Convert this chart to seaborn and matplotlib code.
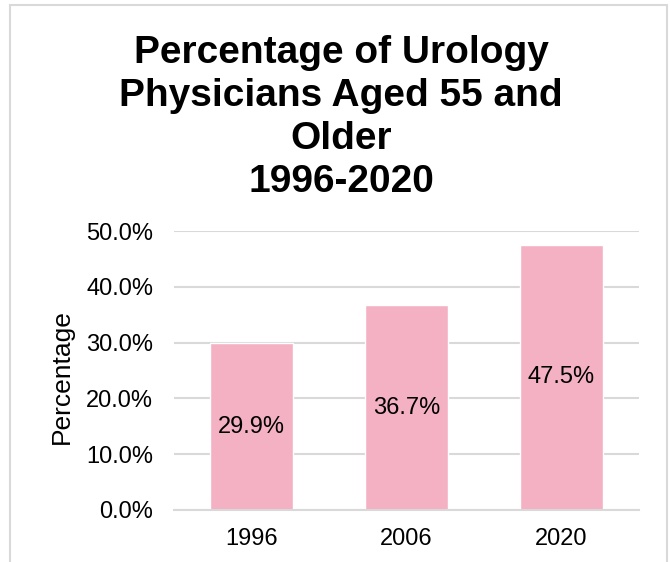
import matplotlib
matplotlib.use("Agg")
import matplotlib.pyplot as plt
import seaborn as sns
from matplotlib.patches import Rectangle
from matplotlib.ticker import PercentFormatter
from pandas import DataFrame

years = ["1996", "2006", "2020"]
share = [0.299, 0.367, 0.475]
y_ticks = [0.0, 0.1, 0.2, 0.3, 0.4, 0.5]

sns.set_theme(style="white")
plt.rcParams["font.family"] = ["Liberation Sans", "DejaVu Sans"]

df = DataFrame({"year": years, "share": share})

fig = plt.figure(figsize=(6.7, 5.62), dpi=100)
ax = fig.add_axes([174 / 670, 1 - 510 / 562, (639 - 174) / 670, (510 - 231) / 562])

sns.barplot(data=df, x="year", y="share", color="#F4B1C3", saturation=1,
            width=0.54, ax=ax)
for c in ax.containers:
    ax.bar_label(c, labels=[f"{v * 100:.1f}%" for v in share],
                 label_type="center", fontsize=17, color="black")

ax.set_ylim(0, 0.5)
ax.set_yticks(y_ticks)
ax.yaxis.set_major_formatter(PercentFormatter(1.0, decimals=1))
ax.grid(axis="y", color="#D9D9D9", linewidth=1.5)
ax.set_axisbelow(True)
for s in ["top", "right", "left"]:
    ax.spines[s].set_visible(False)
ax.spines["bottom"].set_color("#D9D9D9")
ax.spines["bottom"].set_linewidth(1.5)
ax.tick_params(axis="both", length=0, labelsize=17, colors="black")
ax.tick_params(axis="y", pad=15)
ax.tick_params(axis="x", pad=13)
ax.set_xlabel("")
ax.set_ylabel("Percentage", fontsize=19, color="black", va="center")
ax.yaxis.set_label_coords(-(174 - 62) / 465, 0.48)

fig.text(341 / 670, 1 - 117 / 562,
         "Percentage of Urology\nPhysicians Aged 55 and\nOlder\n1996-2020",
         ha="center", va="center", fontsize=28, fontweight="bold",
         linespacing=1.25, color="black")

fig.patches.append(Rectangle((10 / 670, -0.05), (667 - 10) / 670, 1.05 - 5 / 562,
                             transform=fig.transFigure, fill=False,
                             edgecolor="#D9D9D9", linewidth=1.5))

fig.savefig("out.png", dpi=100, facecolor="white")
